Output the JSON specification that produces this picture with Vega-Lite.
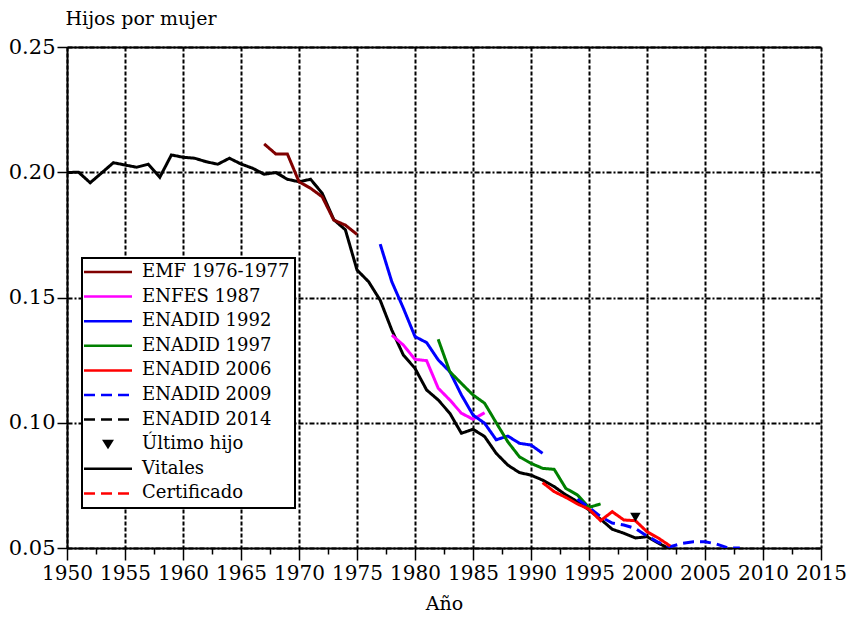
{
  "$schema": "https://vega.github.io/schema/vega-lite/v6.json",
  "width": 754,
  "height": 501,
  "autosize": {"type": "none"},
  "padding": {"left": 67, "top": 47, "right": 29, "bottom": 72},
  "background": "white",
  "config": {
    "font": "DejaVu Serif",
    "view": {"stroke": "#999999", "strokeWidth": 1},
    "axis": {"labelColor": "black", "titleColor": "black", "domainColor": "black", "tickColor": "black", "titleFontWeight": "normal"}
  },
  "datasets": {
    "lineas": [
      {"anio": 1950, "valor": 0.1999, "serie": "Vitales"},
      {"anio": 1951, "valor": 0.2000, "serie": "Vitales"},
      {"anio": 1952, "valor": 0.1958, "serie": "Vitales"},
      {"anio": 1953, "valor": 0.1998, "serie": "Vitales"},
      {"anio": 1954, "valor": 0.2038, "serie": "Vitales"},
      {"anio": 1955, "valor": 0.2029, "serie": "Vitales"},
      {"anio": 1956, "valor": 0.2020, "serie": "Vitales"},
      {"anio": 1957, "valor": 0.2032, "serie": "Vitales"},
      {"anio": 1958, "valor": 0.1980, "serie": "Vitales"},
      {"anio": 1959, "valor": 0.2069, "serie": "Vitales"},
      {"anio": 1960, "valor": 0.2060, "serie": "Vitales"},
      {"anio": 1961, "valor": 0.2056, "serie": "Vitales"},
      {"anio": 1962, "valor": 0.2042, "serie": "Vitales"},
      {"anio": 1963, "valor": 0.2032, "serie": "Vitales"},
      {"anio": 1964, "valor": 0.2056, "serie": "Vitales"},
      {"anio": 1965, "valor": 0.2033, "serie": "Vitales"},
      {"anio": 1966, "valor": 0.2016, "serie": "Vitales"},
      {"anio": 1967, "valor": 0.1992, "serie": "Vitales"},
      {"anio": 1968, "valor": 0.1999, "serie": "Vitales"},
      {"anio": 1969, "valor": 0.1972, "serie": "Vitales"},
      {"anio": 1970, "valor": 0.1962, "serie": "Vitales"},
      {"anio": 1971, "valor": 0.1972, "serie": "Vitales"},
      {"anio": 1972, "valor": 0.1916, "serie": "Vitales"},
      {"anio": 1973, "valor": 0.1811, "serie": "Vitales"},
      {"anio": 1974, "valor": 0.1770, "serie": "Vitales"},
      {"anio": 1975, "valor": 0.1610, "serie": "Vitales"},
      {"anio": 1976, "valor": 0.1563, "serie": "Vitales"},
      {"anio": 1977, "valor": 0.1489, "serie": "Vitales"},
      {"anio": 1978, "valor": 0.1370, "serie": "Vitales"},
      {"anio": 1979, "valor": 0.1270, "serie": "Vitales"},
      {"anio": 1980, "valor": 0.1217, "serie": "Vitales"},
      {"anio": 1981, "valor": 0.1131, "serie": "Vitales"},
      {"anio": 1982, "valor": 0.1091, "serie": "Vitales"},
      {"anio": 1983, "valor": 0.1038, "serie": "Vitales"},
      {"anio": 1984, "valor": 0.0958, "serie": "Vitales"},
      {"anio": 1985, "valor": 0.0974, "serie": "Vitales"},
      {"anio": 1986, "valor": 0.0945, "serie": "Vitales"},
      {"anio": 1987, "valor": 0.0878, "serie": "Vitales"},
      {"anio": 1988, "valor": 0.0831, "serie": "Vitales"},
      {"anio": 1989, "valor": 0.0801, "serie": "Vitales"},
      {"anio": 1990, "valor": 0.0791, "serie": "Vitales"},
      {"anio": 1991, "valor": 0.0771, "serie": "Vitales"},
      {"anio": 1992, "valor": 0.0745, "serie": "Vitales"},
      {"anio": 1993, "valor": 0.0712, "serie": "Vitales"},
      {"anio": 1994, "valor": 0.0685, "serie": "Vitales"},
      {"anio": 1995, "valor": 0.0652, "serie": "Vitales"},
      {"anio": 1996, "valor": 0.0615, "serie": "Vitales"},
      {"anio": 1997, "valor": 0.0575, "serie": "Vitales"},
      {"anio": 1998, "valor": 0.0559, "serie": "Vitales"},
      {"anio": 1999, "valor": 0.0540, "serie": "Vitales"},
      {"anio": 2000, "valor": 0.0545, "serie": "Vitales"},
      {"anio": 2001, "valor": 0.0519, "serie": "Vitales"},
      {"anio": 2002, "valor": 0.0495, "serie": "Vitales"},
      {"anio": 1967, "valor": 0.2113, "serie": "EMF 1976-1977"},
      {"anio": 1968, "valor": 0.2073, "serie": "EMF 1976-1977"},
      {"anio": 1969, "valor": 0.2073, "serie": "EMF 1976-1977"},
      {"anio": 1970, "valor": 0.1962, "serie": "EMF 1976-1977"},
      {"anio": 1971, "valor": 0.1936, "serie": "EMF 1976-1977"},
      {"anio": 1972, "valor": 0.1902, "serie": "EMF 1976-1977"},
      {"anio": 1973, "valor": 0.1809, "serie": "EMF 1976-1977"},
      {"anio": 1974, "valor": 0.1789, "serie": "EMF 1976-1977"},
      {"anio": 1975, "valor": 0.1752, "serie": "EMF 1976-1977"},
      {"anio": 1978, "valor": 0.1350, "serie": "ENFES 1987"},
      {"anio": 1979, "valor": 0.1310, "serie": "ENFES 1987"},
      {"anio": 1980, "valor": 0.1253, "serie": "ENFES 1987"},
      {"anio": 1981, "valor": 0.1248, "serie": "ENFES 1987"},
      {"anio": 1982, "valor": 0.1138, "serie": "ENFES 1987"},
      {"anio": 1983, "valor": 0.1091, "serie": "ENFES 1987"},
      {"anio": 1984, "valor": 0.1038, "serie": "ENFES 1987"},
      {"anio": 1985, "valor": 0.1014, "serie": "ENFES 1987"},
      {"anio": 1986, "valor": 0.1040, "serie": "ENFES 1987"},
      {"anio": 1977, "valor": 0.1713, "serie": "ENADID 1992"},
      {"anio": 1978, "valor": 0.1563, "serie": "ENADID 1992"},
      {"anio": 1979, "valor": 0.1457, "serie": "ENADID 1992"},
      {"anio": 1980, "valor": 0.1344, "serie": "ENADID 1992"},
      {"anio": 1981, "valor": 0.1320, "serie": "ENADID 1992"},
      {"anio": 1982, "valor": 0.1251, "serie": "ENADID 1992"},
      {"anio": 1983, "valor": 0.1204, "serie": "ENADID 1992"},
      {"anio": 1984, "valor": 0.1111, "serie": "ENADID 1992"},
      {"anio": 1985, "valor": 0.1031, "serie": "ENADID 1992"},
      {"anio": 1986, "valor": 0.0998, "serie": "ENADID 1992"},
      {"anio": 1987, "valor": 0.0932, "serie": "ENADID 1992"},
      {"anio": 1988, "valor": 0.0947, "serie": "ENADID 1992"},
      {"anio": 1989, "valor": 0.0918, "serie": "ENADID 1992"},
      {"anio": 1990, "valor": 0.0911, "serie": "ENADID 1992"},
      {"anio": 1991, "valor": 0.0878, "serie": "ENADID 1992"},
      {"anio": 1982, "valor": 0.1333, "serie": "ENADID 1997"},
      {"anio": 1983, "valor": 0.1204, "serie": "ENADID 1997"},
      {"anio": 1984, "valor": 0.1157, "serie": "ENADID 1997"},
      {"anio": 1985, "valor": 0.1111, "serie": "ENADID 1997"},
      {"anio": 1986, "valor": 0.1078, "serie": "ENADID 1997"},
      {"anio": 1987, "valor": 0.1000, "serie": "ENADID 1997"},
      {"anio": 1988, "valor": 0.0924, "serie": "ENADID 1997"},
      {"anio": 1989, "valor": 0.0864, "serie": "ENADID 1997"},
      {"anio": 1990, "valor": 0.0838, "serie": "ENADID 1997"},
      {"anio": 1991, "valor": 0.0818, "serie": "ENADID 1997"},
      {"anio": 1992, "valor": 0.0814, "serie": "ENADID 1997"},
      {"anio": 1993, "valor": 0.0738, "serie": "ENADID 1997"},
      {"anio": 1994, "valor": 0.0712, "serie": "ENADID 1997"},
      {"anio": 1995, "valor": 0.0662, "serie": "ENADID 1997"},
      {"anio": 1996, "valor": 0.0676, "serie": "ENADID 1997"},
      {"anio": 1994, "valor": 0.0695, "serie": "ENADID 2009"},
      {"anio": 1995, "valor": 0.0662, "serie": "ENADID 2009"},
      {"anio": 1996, "valor": 0.0625, "serie": "ENADID 2009"},
      {"anio": 1997, "valor": 0.0600, "serie": "ENADID 2009"},
      {"anio": 1998, "valor": 0.0592, "serie": "ENADID 2009"},
      {"anio": 1999, "valor": 0.0578, "serie": "ENADID 2009"},
      {"anio": 2000, "valor": 0.0548, "serie": "ENADID 2009"},
      {"anio": 2001, "valor": 0.0522, "serie": "ENADID 2009"},
      {"anio": 2002, "valor": 0.0505, "serie": "ENADID 2009"},
      {"anio": 2003, "valor": 0.0518, "serie": "ENADID 2009"},
      {"anio": 2004, "valor": 0.0525, "serie": "ENADID 2009"},
      {"anio": 2005, "valor": 0.0525, "serie": "ENADID 2009"},
      {"anio": 2006, "valor": 0.0516, "serie": "ENADID 2009"},
      {"anio": 2007, "valor": 0.0500, "serie": "ENADID 2009"},
      {"anio": 2008, "valor": 0.0500, "serie": "ENADID 2009"},
      {"anio": 1991, "valor": 0.0761, "serie": "ENADID 2006"},
      {"anio": 1992, "valor": 0.0725, "serie": "ENADID 2006"},
      {"anio": 1993, "valor": 0.0702, "serie": "ENADID 2006"},
      {"anio": 1994, "valor": 0.0676, "serie": "ENADID 2006"},
      {"anio": 1995, "valor": 0.0655, "serie": "ENADID 2006"},
      {"anio": 1996, "valor": 0.0609, "serie": "ENADID 2006"},
      {"anio": 1997, "valor": 0.0645, "serie": "ENADID 2006"},
      {"anio": 1998, "valor": 0.0612, "serie": "ENADID 2006"},
      {"anio": 1999, "valor": 0.0609, "serie": "ENADID 2006"},
      {"anio": 2000, "valor": 0.0565, "serie": "ENADID 2006"},
      {"anio": 2001, "valor": 0.0539, "serie": "ENADID 2006"},
      {"anio": 2002, "valor": 0.0508, "serie": "ENADID 2006"}
    ],
    "ultimo": [
      {"anio": 1999, "valor": 0.0623, "serie": "Último hijo"}
    ]
  },
  "layer": [
    {
      "data": {"name": "lineas"},
      "mark": {"type": "line", "strokeWidth": 3, "clip": true},
      "encoding": {
        "x": {
          "field": "anio", "type": "quantitative",
          "scale": {"domain": [1950, 2015], "nice": false, "zero": false},
          "axis": {
            "orient": "bottom",
            "values": [1950, 1955, 1960, 1965, 1970, 1975, 1980, 1985, 1990, 1995, 2000, 2005, 2010, 2015],
            "format": "d",
            "tickSize": 12, "tickWidth": 1.5,
            "domainWidth": 2,
            "labelFont": "DejaVu Serif", "labelFontSize": 20, "labelPadding": 3, "labelFlush": false,
            "grid": true, "gridColor": "black", "gridDash": [4, 2], "gridWidth": 2, "gridOpacity": 1,
            "title": "Año", "titleFont": "DejaVu Serif", "titleFontSize": 19, "titlePadding": 11
          }
        },
        "y": {
          "field": "valor", "type": "quantitative",
          "scale": {"domain": [0.05, 0.25], "nice": false, "zero": false},
          "axis": {
            "values": [0.05, 0.1, 0.15, 0.2, 0.25],
            "format": ".2f",
            "tickSize": 10, "tickWidth": 1.5,
            "domainWidth": 2,
            "labelFont": "DejaVu Serif", "labelFontSize": 21, "labelPadding": 2, "labelFlush": false,
            "grid": true, "gridColor": "black", "gridDash": [5, 2, 2, 2], "gridWidth": 2, "gridOpacity": 1,
            "title": "Hijos por mujer", "titleFont": "DejaVu Serif", "titleAngle": 0, "titleAlign": "left", "titleBaseline": "alphabetic",
            "titleX": -2, "titleY": -23, "titleFontSize": 19
          }
        },
        "color": {
          "field": "serie", "type": "nominal",
          "scale": {
            "domain": ["EMF 1976-1977", "ENFES 1987", "ENADID 1992", "ENADID 1997", "ENADID 2006", "ENADID 2009", "ENADID 2014", "Último hijo", "Vitales", "Certificado"],
            "range": ["#800000", "#FF00FF", "#0000FF", "#008000", "#FF0000", "#0000FF", "#000000", "#000000", "#000000", "#FF0000"]
          },
          "legend": {
            "title": null,
            "orient": "none", "legendX": 15, "legendY": 211,
            "symbolSize": 576, "symbolStrokeWidth": 2.5,
            "labelFont": "DejaVu Serif", "labelFontSize": 18, "labelOffset": 37, "labelColor": "black", "labelLimit": 300,
            "rowPadding": 6.6, "padding": 5,
            "strokeColor": "black", "fillColor": "white",
            "encode": {
              "legend": {"update": {"strokeWidth": {"value": 2}}},
              "symbols": {"update": {
                "shape": {"signal": "datum.value === 'Último hijo' ? 'M0.5,-0.38L1.5,-0.38L1,0.42Z' : 'M-1,0H3'"},
                "fill": {"signal": "datum.value === 'Último hijo' ? 'black' : 'transparent'"},
                "strokeWidth": {"signal": "datum.value === 'Último hijo' ? 0 : 2.5"}
              }}
            }
          }
        },
        "strokeDash": {
          "field": "serie", "type": "nominal",
          "scale": {
            "domain": ["EMF 1976-1977", "ENFES 1987", "ENADID 1992", "ENADID 1997", "ENADID 2006", "ENADID 2009", "ENADID 2014", "Último hijo", "Vitales", "Certificado"],
            "range": [[1, 0], [1, 0], [1, 0], [1, 0], [1, 0], [11, 6], [11, 6], [1, 0], [1, 0], [11, 6]]
          },
          "legend": null
        }
      }
    },
    {
      "data": {"name": "ultimo"},
      "mark": {"type": "point", "shape": "triangle-down", "filled": true, "color": "black", "size": 110, "opacity": 1},
      "encoding": {
        "x": {
          "field": "anio", "type": "quantitative",
          "scale": {"domain": [1950, 2015], "nice": false, "zero": false},
          "axis": {
            "orient": "bottom",
            "values": [1952.5, 1957.5, 1962.5, 1967.5, 1972.5, 1977.5, 1982.5, 1987.5, 1992.5, 1997.5, 2002.5, 2007.5, 2012.5],
            "labels": false, "domain": false, "grid": false,
            "tickSize": 6, "tickWidth": 1.5, "title": null
          }
        },
        "y": {"field": "valor", "type": "quantitative", "scale": {"domain": [0.05, 0.25], "nice": false, "zero": false}}
      }
    },
    {
      "data": {"name": "ultimo"},
      "mark": {"type": "point", "opacity": 0},
      "encoding": {
        "x": {
          "field": "anio", "type": "quantitative",
          "scale": {"domain": [1950, 2015], "nice": false, "zero": false},
          "axis": {
            "orient": "top",
            "labels": false, "ticks": false, "grid": false,
            "domain": true, "domainWidth": 2, "title": null
          }
        },
        "y": {"field": "valor", "type": "quantitative", "scale": {"domain": [0.05, 0.25], "nice": false, "zero": false}}
      }
    }
  ],
  "resolve": {"axis": {"x": "independent"}}
}
